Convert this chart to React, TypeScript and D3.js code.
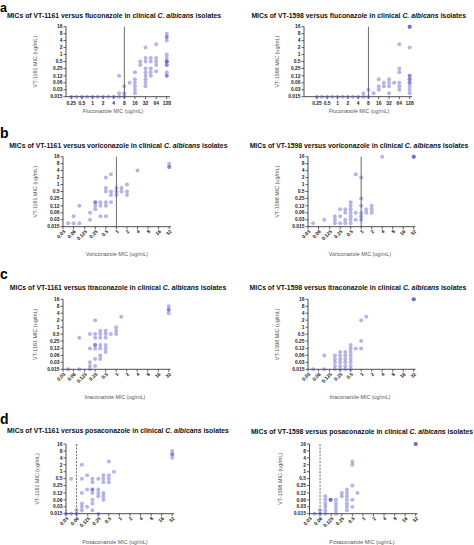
import React from "react";
import * as d3 from "d3";

// ---------- tick labels ----------
const yTickLabels = ["0.015", "0.03", "0.06", "0.12", "0.25", "0.5", "1", "2", "4", "8", "16"];
const flucTickLabels = ["0.25", "0.5", "1", "2", "4", "8", "16", "32", "64", "128"];
const azoleTickLabels = ["0.03", "0.06", "0.125", "0.25", "0.5", "1", "2", "4", "8", "16", "32"];

// ---------- data: [comparator MIC, VT MIC] ----------
const flucVT1161: [number, number][] = [
  [0.25, 0.015], [0.35, 0.015], [0.5, 0.015], [0.7, 0.015], [1, 0.015], [1.4, 0.015], [2, 0.015], [2.8, 0.015], [4, 0.015], [5.7, 0.015], [8, 0.015],
  [5.7, 0.12], [5.7, 0.021],
  [8, 0.042], [8, 0.021],
  [11.3, 0.06],
  [16, 0.17], [16, 0.085], [16, 0.06], [16, 0.042], [16, 0.03], [16, 0.021],
  [22.6, 0.5], [22.6, 0.35],
  [32, 2], [32, 0.7], [32, 0.5], [32, 0.25], [32, 0.17], [32, 0.12], [32, 0.085], [32, 0.06], [32, 0.042],
  [45, 0.7], [45, 0.5], [45, 0.25], [45, 0.17], [45, 0.12],
  [64, 2.8], [64, 0.7], [64, 0.5], [64, 0.35], [64, 0.19],
  [128, 8], [128, 5.7], [128, 5.7], [128, 4], [128, 1], [128, 0.7], [128, 0.5], [128, 0.5], [128, 0.5], [128, 0.35], [128, 0.35], [128, 0.17], [128, 0.12], [128, 0.12],
];

const flucVT1598: [number, number][] = [
  [0.25, 0.015], [0.35, 0.015], [0.5, 0.015], [0.7, 0.015], [1, 0.015], [1.4, 0.015], [2, 0.015], [2.8, 0.015], [4, 0.015], [5.7, 0.015], [8, 0.015],
  [5.7, 0.021], [8, 0.03], [11.3, 0.021],
  [16, 0.085], [16, 0.042], [16, 0.03],
  [22.6, 0.06], [22.6, 0.042],
  [32, 0.085], [32, 0.06], [32, 0.042], [32, 0.021],
  [45, 0.06],
  [64, 2.8], [64, 0.25], [64, 0.17], [64, 0.06], [64, 0.042], [64, 0.03],
  [128, 16], [128, 16], [128, 16], [128, 2], [128, 0.12], [128, 0.12], [128, 0.085], [128, 0.085], [128, 0.06], [128, 0.06], [128, 0.042], [128, 0.03], [128, 0.021],
];

const voriVT1161: [number, number][] = [
  [0.042, 0.021], [0.06, 0.042], [0.06, 0.021], [0.088, 0.12], [0.088, 0.021],
  [0.177, 0.06], [0.177, 0.03],
  [0.25, 0.17], [0.25, 0.17], [0.25, 0.12], [0.25, 0.085],
  [0.35, 0.17], [0.35, 0.12], [0.35, 0.042],
  [0.5, 2], [0.5, 0.7], [0.5, 0.5], [0.5, 0.17], [0.5, 0.12], [0.5, 0.042],
  [0.7, 2.8], [0.7, 0.5], [0.7, 0.35], [0.7, 0.17],
  [1, 0.7], [1, 0.5], [1, 0.35],
  [1.4, 0.7], [1.4, 0.5],
  [2, 1], [2, 0.5], [2, 0.35],
  [4, 4],
  [32, 8], [32, 5.7], [32, 5.7],
];

const voriVT1598: [number, number][] = [
  [0.042, 0.021], [0.088, 0.03],
  [0.177, 0.042], [0.177, 0.03], [0.177, 0.021],
  [0.25, 0.085], [0.25, 0.042], [0.25, 0.021],
  [0.35, 0.085], [0.35, 0.06], [0.35, 0.03], [0.35, 0.021],
  [0.5, 0.17], [0.5, 0.12], [0.5, 0.085], [0.5, 0.06], [0.5, 0.042], [0.5, 0.03], [0.5, 0.021],
  [0.7, 2.8], [0.7, 0.06], [0.7, 0.03],
  [1, 2], [1, 0.25], [1, 0.12], [1, 0.06], [1, 0.042], [1, 0.03],
  [1.4, 0.085], [1.4, 0.06],
  [2, 0.12], [2, 0.085], [2, 0.06],
  [4, 16],
  [32, 16], [32, 16], [32, 16],
];

const itraVT1161: [number, number][] = [
  [0.042, 0.015], [0.088, 0.35], [0.088, 0.015],
  [0.177, 0.5], [0.177, 0.12], [0.177, 0.03], [0.177, 0.021], [0.177, 0.015],
  [0.25, 2], [0.25, 0.5], [0.25, 0.35], [0.25, 0.17], [0.25, 0.17], [0.25, 0.12], [0.25, 0.042], [0.25, 0.021],
  [0.35, 0.7], [0.35, 0.5], [0.35, 0.35], [0.35, 0.17], [0.35, 0.12], [0.35, 0.06], [0.35, 0.042],
  [0.5, 0.7], [0.5, 0.5], [0.5, 0.35], [0.5, 0.17], [0.5, 0.12], [0.5, 0.085],
  [0.7, 0.5],
  [1, 1], [1, 0.7], [1, 0.5],
  [1.4, 2.8],
  [32, 8], [32, 5.7], [32, 5.7], [32, 4],
];

const itraVT1598: [number, number][] = [
  [0.042, 0.015], [0.088, 0.06], [0.088, 0.015],
  [0.177, 0.06], [0.177, 0.042], [0.177, 0.03], [0.177, 0.021], [0.177, 0.015],
  [0.25, 0.085], [0.25, 0.06], [0.25, 0.042], [0.25, 0.03], [0.25, 0.021], [0.25, 0.015],
  [0.35, 0.085], [0.35, 0.06], [0.35, 0.042], [0.35, 0.03], [0.35, 0.021], [0.35, 0.015],
  [0.5, 0.17], [0.5, 0.12], [0.5, 0.085], [0.5, 0.06], [0.5, 0.042], [0.5, 0.03], [0.5, 0.021], [0.5, 0.015],
  [0.7, 0.12],
  [1, 2], [1, 0.25], [1, 0.12],
  [1.4, 2.8],
  [32, 16], [32, 16], [32, 16],
];

const posaVT1161: [number, number][] = [
  [0.03, 0.015], [0.042, 0.5], [0.042, 0.015], [0.06, 0.021], [0.06, 0.015],
  [0.085, 2], [0.085, 0.5], [0.085, 0.12], [0.085, 0.042], [0.085, 0.03], [0.085, 0.021],
  [0.12, 0.7], [0.12, 0.17], [0.12, 0.03],
  [0.17, 0.5], [0.17, 0.35], [0.17, 0.17], [0.17, 0.17], [0.17, 0.12], [0.17, 0.06], [0.17, 0.042], [0.17, 0.021],
  [0.25, 0.5], [0.25, 0.17], [0.25, 0.12], [0.25, 0.085], [0.25, 0.015],
  [0.35, 0.7], [0.35, 0.5], [0.35, 0.35], [0.35, 0.12], [0.35, 0.085], [0.35, 0.06],
  [0.5, 2.8], [0.5, 0.7], [0.5, 0.5], [0.5, 0.35],
  [0.7, 1],
  [32, 8], [32, 5.7], [32, 5.7], [32, 4],
];

const posaVT1598: [number, number][] = [
  [0.042, 0.015], [0.06, 0.021], [0.06, 0.015],
  [0.085, 0.085], [0.085, 0.06], [0.085, 0.042], [0.085, 0.03], [0.085, 0.021], [0.085, 0.015],
  [0.12, 0.06], [0.12, 0.06], [0.12, 0.06],
  [0.17, 0.06], [0.17, 0.042], [0.17, 0.03], [0.17, 0.021], [0.17, 0.015],
  [0.25, 0.12], [0.25, 0.085],
  [0.35, 0.17], [0.35, 0.12], [0.35, 0.085], [0.35, 0.06], [0.35, 0.042], [0.35, 0.03], [0.35, 0.021],
  [0.5, 2.8], [0.5, 2], [0.5, 0.25], [0.5, 0.06], [0.5, 0.03],
  [0.7, 0.12],
  [32, 16], [32, 16], [32, 16],
];

const compounds = ["VT-1161", "VT-1598"];
const drugs = ["fluconazole", "voriconazole", "itraconazole", "posaconazole"];
const drugLabels = ["Fluconazole", "Voriconazole", "Itraconazole", "Posaconazole"];
const rowLetters = ["a", "b", "c", "d"];

// ---------- layout ----------
type Panel = {
  data: [number, number][];
  ticks: string[];
  rotated: boolean;
  xDomain: [number, number];
  xRange: [number, number];
  yRange: [number, number];
  ref?: { value: number; dashed: boolean };
  compound: string;
  drug: string;
  drugLabel: string;
  titleX: number;
  titleY: number;
  yLabelX: number;
  xLabelY: number;
  xLabelX: number;
};

const rows = [
  { datasets: [flucVT1161, flucVT1598], ticks: flucTickLabels, rotated: false, yRange: [96.7, 26.7], ref: { value: 8, dashed: false },
    xDomains: [[0.177, 158], [0.105, 150]], xRanges: [[66, 170], [304, 412]], titleY: [17.5, 17.5], xLabelY: 113, xLabelX: [113, 359], titleX: [114, 358.7] },
  { datasets: [voriVT1161, voriVT1598], ticks: azoleTickLabels, rotated: true, yRange: [226.7, 156.7], ref: { value: 1, dashed: false },
    xDomains: [[0.03, 36], [0.03, 36]], xRanges: [[63, 171], [308, 415.5]], titleY: [147.5, 147.5], xLabelY: 256, xLabelX: [117, 360], titleX: [118.3, 359] },
  { datasets: [itraVT1161, itraVT1598], ticks: azoleTickLabels, rotated: true, yRange: [369.3, 299.3], ref: undefined,
    xDomains: [[0.03, 36], [0.03, 36]], xRanges: [[63, 170.5], [308, 415.5]], titleY: [290, 290], xLabelY: 399, xLabelX: [115, 360], titleX: [118, 358] },
  { datasets: [posaVT1161, posaVT1598], ticks: azoleTickLabels, rotated: true, yRange: [513.7, 444], ref: { value: 0.06, dashed: true },
    xDomains: [[0.03, 36], [0.03, 36]], xRanges: [[66, 174], [309.5, 417.5]], titleY: [432.5, 434], xLabelY: 543.5, xLabelX: [115, 362], titleX: [118, 362] },
];

const letterY = [11.5, 138, 279, 424];
const yLabelXs = [[37, 279], [37, 279], [37, 279], [39, 282]];

const FONT = "'Liberation Sans', Arial, sans-serif";
const DOT = "#4646c4";

function PanelView({ p }: { p: Panel }) {
  const x = d3.scaleLog().base(2).domain(p.xDomain).range(p.xRange);
  const y = d3.scaleLog().base(2).domain([0.015, 16]).range(p.yRange);
  const [yb, yt] = p.yRange;
  const [x0, x1] = p.xRange;
  return (
    <g>
      {/* title */}
      <text x={p.titleX} y={p.titleY} textAnchor="middle" fontSize={6.85} fontWeight="bold" fill="#111" fontFamily={FONT}>
        {`MICs of ${p.compound} versus ${p.drug} in clinical `}
        <tspan fontStyle="italic">C. albicans</tspan>
        {" isolates"}
      </text>
      {/* reference line */}
      {p.ref && (
        <line x1={x(p.ref.value)} x2={x(p.ref.value)} y1={yt} y2={yb} stroke="#444" strokeWidth={0.8}
          strokeDasharray={p.ref.dashed ? "2,1.4" : undefined} />
      )}
      {/* axes */}
      <line x1={x0} x2={x0} y1={yt} y2={yb} stroke="#222" strokeWidth={0.8} />
      <line x1={x0} x2={x1} y1={yb} y2={yb} stroke="#222" strokeWidth={0.8} />
      {yTickLabels.map((t) => (
        <g key={"y" + t}>
          <line x1={x0 - 2.5} x2={x0} y1={y(+t)} y2={y(+t)} stroke="#222" strokeWidth={0.7} />
          <text x={x0 - 3.5} y={y(+t)} dy="0.35em" textAnchor="end" fontSize={4.9} fontWeight="bold" fill="#222" fontFamily={FONT}>{t}</text>
        </g>
      ))}
      {p.ticks.map((t) => (
        <g key={"x" + t}>
          <line x1={x(+t)} x2={x(+t)} y1={yb} y2={yb + 2.5} stroke="#222" strokeWidth={0.7} />
          {p.rotated ? (
            <text transform={`translate(${x(+t) + 1.5},${yb + 4}) rotate(-45)`} dy="0.35em" textAnchor="end" fontSize={4.9} fontWeight="bold" fill="#222" fontFamily={FONT}>{t}</text>
          ) : (
            <text x={x(+t)} y={yb + 8} textAnchor="middle" fontSize={4.9} fontWeight="bold" fill="#222" fontFamily={FONT}>{t}</text>
          )}
        </g>
      ))}
      {/* axis labels */}
      <text x={p.xLabelX} y={p.xLabelY} textAnchor="middle" fontSize={5.4} fill="#555" fontFamily={FONT}>{`${p.drugLabel} MIC (ug/mL)`}</text>
      <text transform={`translate(${p.yLabelX},${(yb + yt) / 2}) rotate(-90)`} textAnchor="middle" fontSize={5.4} fill="#555" fontFamily={FONT}>{`${p.compound} MIC (ug/mL)`}</text>
      {/* points */}
      {p.data.map((d, i) => (
        <circle key={i} cx={x(d[0])} cy={y(d[1])} r={2} fill={DOT} fillOpacity={0.4} />
      ))}
    </g>
  );
}

export default function App() {
  const panels: Panel[] = [];
  rows.forEach((r, ri) => {
    [0, 1].forEach((ci) => {
      panels.push({
        data: r.datasets[ci],
        ticks: r.ticks,
        rotated: r.rotated,
        xDomain: r.xDomains[ci] as [number, number],
        xRange: r.xRanges[ci] as [number, number],
        yRange: r.yRange as [number, number],
        ref: r.ref,
        compound: compounds[ci],
        drug: drugs[ri],
        drugLabel: drugLabels[ri],
        titleX: r.titleX[ci],
        titleY: r.titleY[ci],
        yLabelX: yLabelXs[ri][ci],
        xLabelY: r.xLabelY,
        xLabelX: r.xLabelX[ci],
      });
    });
  });
  return (
    <svg width={474} height={545} style={{ position: "absolute", left: 0, top: 0, background: "#fff" }}>
      <rect width={474} height={545} fill="#fff" />
      {rowLetters.map((l, i) => (
        <text key={l} x={0} y={letterY[i]} fontSize={i === 0 ? 12.5 : 14} fontWeight="bold" fill="#000" fontFamily={FONT}>{l}</text>
      ))}
      {panels.map((p, i) => (
        <PanelView key={i} p={p} />
      ))}
    </svg>
  );
}
